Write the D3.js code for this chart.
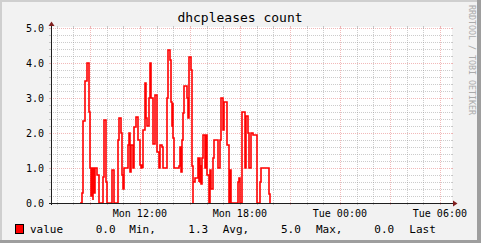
<!DOCTYPE html>
<html>
<head>
<meta charset="utf-8">
<script src="https://cdn.jsdelivr.net/npm/d3@7"></script>
<style>
  html, body { margin: 0; padding: 0; background: #f2f2f2; }
  svg { display: block; }
  text { font-family: "DejaVu Sans Mono", monospace; }
</style>
</head>
<body>
<div id="chart"></div>
<script>
// dhcpleases count (Monday, step values)
const times = [
  "08:25", "08:32", "08:36", "08:43", "08:51", "08:58", "09:02", "09:05", "09:07", "09:10",
  "09:12", "09:15", "09:17", "09:27", "09:32", "09:48", "09:51", "09:58", "10:03", "10:20",
  "10:28", "10:42", "10:46", "10:51", "10:56", "11:00", "11:04", "11:17", "11:21", "11:24",
  "11:29", "11:36", "11:39", "11:47", "11:52", "12:00", "12:05", "12:08", "12:10", "12:12",
  "12:17", "12:22", "12:27", "12:32", "12:36", "12:41", "12:46", "12:53", "13:03", "13:08",
  "13:12", "13:20", "13:24", "13:39", "13:41", "13:48", "13:53", "13:56", "13:58", "14:00",
  "14:03", "14:22", "14:24", "14:29", "14:32", "14:36", "14:40", "14:51", "14:53", "14:58",
  "15:03", "15:08", "15:10", "15:12", "15:17", "15:29", "15:32", "15:34", "15:36", "15:39",
  "15:41", "15:44", "15:46", "15:53", "15:58", "16:03", "16:08", "16:12", "16:17", "16:22",
  "16:27", "16:41", "16:48", "16:51", "16:53", "17:00", "17:03", "17:15", "17:20", "17:24",
  "17:29", "17:53", "17:58", "18:01", "18:08", "18:17", "18:22", "18:28", "18:32", "18:39",
  "18:46", "19:01", "19:12", "19:17", "19:44", "19:48"
];
const values = [
  0, 0.3, 2.35, 3.5, 4.0, 2.6, 1.0, 0.2, 1.0, 0.1,
  1.0, 0.3, 1.0, 0.8, 0, 0.75, 2.37, 0.6, 0, 0.95,
  0, 1.8, 2.42, 2.0, 0.8, 0.4, 1.0, 1.66, 2.0, 0.9,
  1.66, 1.0, 2.16, 2.45, 1.8, 1.1, 1.0, 1.1, 1.0, 2.1,
  3.42, 2.42, 2.2, 3.0, 4.0, 3.0, 1.7, 3.1, 1.47, 1.0,
  1.66, 1.6, 1.0, 3.0, 4.37, 4.09, 2.9, 2.2, 2.85, 1.85,
  1.0, 1.07, 1.6, 0.9, 1.8, 2.57, 3.33, 3.0, 2.42, 4.18,
  3.81, 1.05, 0, 0.6, 0.72, 1.3, 0.6, 1.3, 0.6, 1.1,
  0.55, 1.3, 1.94, 1.0, 1.94, 0.8, 0, 0.95, 0.4, 1.3,
  1.8, 1.0, 1.8, 2.1, 3.0, 2.1, 2.9, 1.65, 0, 0.95,
  0, 0.6, 0.72, 0, 2.6, 1.0, 2.5, 2.0, 1.0, 2.0,
  1.94, 0, 0.6, 1.0, 0.25, 0
];
const yTicks = [0, 1, 2, 3, 4, 5];
const legendName = "value";
const legendStats = ["Min,", "Avg,", "Max,", "Last"];
const legendValues = [0.0, 1.3, 5.0, 0.0];
const title = "dhcpleases count";
const watermark = "RRDTOOL / TOBI OETIKER";

const W = 481, H = 243;
const parse = d3.timeParse("%Y-%m-%d %H:%M");
const data = times.map((t, i) => ({ t: parse("2024-01-01 " + t), v: values[i] }));

const x = d3.scaleTime()
  .domain([parse("2024-01-01 06:40"), parse("2024-01-02 06:40")])
  .range([51, 451]);
const y = d3.scaleLinear().domain([0, 5]).range([203, 28]);

const svg = d3.select("#chart").append("svg")
  .attr("width", W).attr("height", H);

// background + 3d frame
svg.append("rect").attr("width", W).attr("height", H).attr("fill", "#f2f2f2");
svg.append("rect").attr("x", 0).attr("y", 0).attr("width", W).attr("height", 2).attr("fill", "#cfcfcf");
svg.append("rect").attr("x", 0).attr("y", 0).attr("width", 2).attr("height", H).attr("fill", "#cfcfcf");
svg.append("rect").attr("x", W - 4).attr("y", 0).attr("width", 4).attr("height", H).attr("fill", "#9e9e9e");
svg.append("rect").attr("x", 0).attr("y", H - 3).attr("width", W).attr("height", 3).attr("fill", "#9e9e9e");

svg.append("rect").attr("x", 51).attr("y", 27).attr("width", 401).attr("height", 176).attr("fill", "#fff");

const grid = svg.append("g").attr("shape-rendering", "crispEdges");
const minorCol = "rgba(143,143,143,0.45)", majorCol = "rgba(222,79,79,0.4)";

// horizontal grid, minor every 0.2
d3.range(1, 26).forEach(k => {
  const v = k * 0.2;
  const yy = Math.round(y(v)) + 0.5;
  const col = k % 5 === 0 ? majorCol : minorCol;
  grid.append("line").attr("x1", 51).attr("x2", 451).attr("y1", yy).attr("y2", yy)
    .attr("stroke", col).attr("stroke-dasharray", "1,1");
  grid.append("line").attr("x1", 49).attr("x2", 51).attr("y1", yy).attr("y2", yy).attr("stroke", col);
  grid.append("line").attr("x1", 451).attr("x2", 453).attr("y1", yy).attr("y2", yy).attr("stroke", col);
});

// vertical grid, minor every hour, major every 3 hours
x.ticks(d3.timeHour.every(1)).forEach(t => {
  const xx = Math.round(x(t)) + 0.5;
  if (xx <= 52) return;
  const col = t.getHours() % 3 === 0 ? majorCol : minorCol;
  grid.append("line").attr("x1", xx).attr("x2", xx).attr("y1", 28).attr("y2", 203)
    .attr("stroke", col).attr("stroke-dasharray", "1,1");
  grid.append("line").attr("x1", xx).attr("x2", xx).attr("y1", 203).attr("y2", 205).attr("stroke", col);
  grid.append("line").attr("x1", xx).attr("x2", xx).attr("y1", 26).attr("y2", 28).attr("stroke", col);
});

// data line
const line = d3.line()
  .x(d => Math.round(x(d.t)))
  .y(d => Math.round(y(d.v)))
  .curve(d3.curveStepAfter);
svg.append("path").datum(data)
  .attr("d", line)
  .attr("fill", "none")
  .attr("stroke", "#ff0000")
  .attr("stroke-width", 1.6)
  .attr("stroke-linejoin", "miter");

// axes
const ax = svg.append("g").attr("shape-rendering", "crispEdges");
ax.append("line").attr("x1", 49).attr("x2", 454).attr("y1", 203.5).attr("y2", 203.5).attr("stroke", "#1f1f1f");
ax.append("line").attr("x1", 51.5).attr("x2", 51.5).attr("y1", 205).attr("y2", 25).attr("stroke", "#1f1f1f");
svg.append("path").attr("d", "M453,200.5 L457.5,203.5 L453,206.5 Z").attr("fill", "#801f1f");
svg.append("path").attr("d", "M48.5,26 L51.5,21.5 L54.5,26 Z").attr("fill", "#801f1f");

// y labels
svg.append("g").selectAll("text").data(yTicks).join("text")
  .attr("x", 44).attr("y", d => y(d) + 3.5)
  .attr("text-anchor", "end").attr("font-size", "10px").attr("fill", "#000")
  .text(d => d3.format(".1f")(d));

// x labels every 6 hours
svg.append("g").selectAll("text").data(x.ticks(d3.timeHour.every(6))).join("text")
  .attr("x", d => x(d)).attr("y", 217)
  .attr("text-anchor", "middle").attr("font-size", "10px").attr("fill", "#000")
  .text(d3.timeFormat("%a %H:%M"));

// title
svg.append("text").attr("x", 240).attr("y", 22).attr("text-anchor", "middle")
  .attr("font-size", "13px").attr("fill", "#000").text(title);

// watermark
svg.append("text").attr("transform", "translate(468.5,5) rotate(90)")
  .attr("font-size", "8.3px").attr("fill", "#aaaaaa").text(watermark);

// legend
svg.append("rect").attr("x", 15.5).attr("y", 224.5).attr("width", 8).attr("height", 9)
  .attr("fill", "#ff0000").attr("stroke", "#000");
const lg = svg.append("g").attr("font-size", "11px").attr("fill", "#000");
lg.append("text").attr("x", 30).attr("y", 233).text(legendName);
const valX = [95.7, 188.3, 281, 374.3];
const statX = [129.3, 222.7, 316, 409.3];
legendValues.forEach((v, i) => {
  lg.append("text").attr("x", valX[i]).attr("y", 233).text(d3.format(".1f")(v));
  lg.append("text").attr("x", statX[i]).attr("y", 233).text(legendStats[i]);
});
</script>
</body>
</html>
